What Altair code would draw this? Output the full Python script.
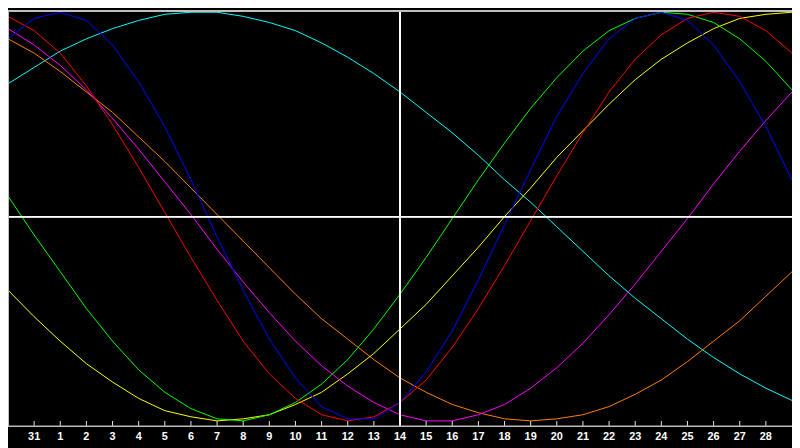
import altair as alt
import pandas as pd

# x index -1 is the left edge (30th), 29 the right edge; ticks sit on 0..28
DAY_INDEX = list(range(-1, 30))
DAY_LABELS = ['31', '1', '2', '3', '4', '5', '6', '7', '8', '9', '10', '11', '12', '13',
              '14', '15', '16', '17', '18', '19', '20', '21', '22', '23', '24', '25',
              '26', '27', '28']

SERIES = ['Spiritual', 'Awareness', 'Aesthetic', 'Intuitive', 'Intellectual',
          'Emotional', 'Physical']
COLORS = ['#00ffff', '#ff8000', '#ffff00', '#ff00ff', '#00ff00', '#ff0000', '#0000ff']

physical = [87, 97, 100, 96, 84, 66, 44, 18, -10, -36, -60, -79, -93, -99, -99, -91,
            -76, -56, -31, -4, 23, 49, 70, 87, 97, 100, 96, 84, 66, 44, 18]
emotional = [98, 91, 80, 64, 45, 24, 2, -20, -41, -61, -77, -89, -97, -100, -98, -91,
             -80, -64, -45, -24, -2, 20, 41, 61, 77, 89, 97, 100, 98, 91, 80]
intellectual = [10, -9, -27, -45, -61, -75, -86, -94, -99, -100, -97, -91, -82, -70, -55,
                -38, -20, -1, 18, 36, 53, 68, 81, 91, 97, 100, 99, 95, 87, 76, 62]
intuitive = [92, 84, 74, 62, 48, 33, 17, 1, -16, -32, -47, -61, -73, -83, -91, -97,
             -100, -100, -97, -92, -84, -74, -62, -48, -33, -17, -1, 16, 32, 47, 61]
aesthetic = [-36, -49, -61, -72, -81, -89, -95, -98, -100, -99, -97, -92, -86, -77, -67,
             -55, -43, -29, -15, 0, 14, 29, 42, 55, 67, 77, 85, 92, 97, 99, 100]
awareness = [87, 80, 71, 61, 51, 39, 27, 14, 1, -12, -25, -38, -50, -60, -70, -79, -86,
             -92, -96, -99, -100, -99, -97, -93, -87, -80, -71, -61, -51, -39, -27]
spiritual = [65, 73, 81, 87, 92, 96, 99, 100, 100, 98, 95, 91, 85, 78, 70, 61, 51, 41,
             30, 18, 7, -5, -17, -29, -40, -50, -60, -69, -77, -84, -90]

PLOT_W = 792
PLOT_H = 420
AXIS_GRAY = '#c0c0c0'

values = {
    'Spiritual': spiritual, 'Awareness': awareness, 'Aesthetic': aesthetic,
    'Intuitive': intuitive, 'Intellectual': intellectual, 'Emotional': emotional,
    'Physical': physical,
}
rows = []
for name in SERIES:
    for day, v in zip(DAY_INDEX, values[name]):
        rows.append({'day': day, 'value': v, 'series': name})
df = pd.DataFrame(rows)

ticks_df = pd.DataFrame({'day': list(range(len(DAY_LABELS))), 'label': DAY_LABELS})

x_scale = alt.Scale(domain=[DAY_INDEX[0], DAY_INDEX[-1]], nice=False, zero=False)
y_scale = alt.Scale(domain=[-102.5, 101], nice=False, zero=False)

lines = alt.Chart(df).mark_line(strokeWidth=1).encode(
    x=alt.X('day:Q', scale=x_scale, axis=None),
    y=alt.Y('value:Q', scale=y_scale, axis=None),
    color=alt.Color('series:N', scale=alt.Scale(domain=SERIES, range=COLORS), legend=None),
    order=alt.Order('day:Q'),
)

# axis drawn by hand: ticks point up into the plot
tick_marks = alt.Chart(ticks_df).mark_rule(color='#e8e8e8', strokeWidth=1).encode(
    x=alt.X('day:Q', scale=x_scale, axis=None),
    y=alt.value(PLOT_H - 5),
    y2=alt.value(PLOT_H),
)
tick_labels = alt.Chart(ticks_df).mark_text(
    color='white', font='Liberation Sans', fontWeight='bold', fontSize=11,
    baseline='middle', align='center',
).encode(
    x=alt.X('day:Q', scale=x_scale, axis=None),
    y=alt.value(PLOT_H + 11.5),
    text='label:N',
)

zero_line = alt.Chart(ticks_df).mark_rule(color='white', strokeWidth=1).encode(
    y=alt.Y(datum=0, scale=y_scale, axis=None),
)
mid_line = alt.Chart(ticks_df).mark_rule(color='white', strokeWidth=1).encode(
    x=alt.X(datum=DAY_LABELS.index('14'), scale=x_scale, axis=None),
)

top_border = alt.Chart(ticks_df).mark_rule(color=AXIS_GRAY, strokeWidth=1).encode(
    x=alt.value(0), x2=alt.value(PLOT_W), y=alt.value(0.5),
)
bottom_border = alt.Chart(ticks_df).mark_rule(color=AXIS_GRAY, strokeWidth=1).encode(
    x=alt.value(0), x2=alt.value(PLOT_W), y=alt.value(PLOT_H + 0.5),
)
left_border = alt.Chart(ticks_df).mark_rule(color=AXIS_GRAY, strokeWidth=1).encode(
    x=alt.value(0.5), y=alt.value(0), y2=alt.value(PLOT_H),
)

chart = alt.layer(
    lines, zero_line, mid_line, tick_marks, tick_labels,
    top_border, bottom_border, left_border
).properties(
    width=PLOT_W,
    height=PLOT_H,
    autosize=alt.AutoSizeParams(type='none'),
    padding={'left': 0, 'top': 0, 'right': 0, 'bottom': 20},
    background='black',
).configure_view(
    strokeWidth=0,
)

chart.save("out.html", embed_options={"renderer": "svg", "actions": False})
